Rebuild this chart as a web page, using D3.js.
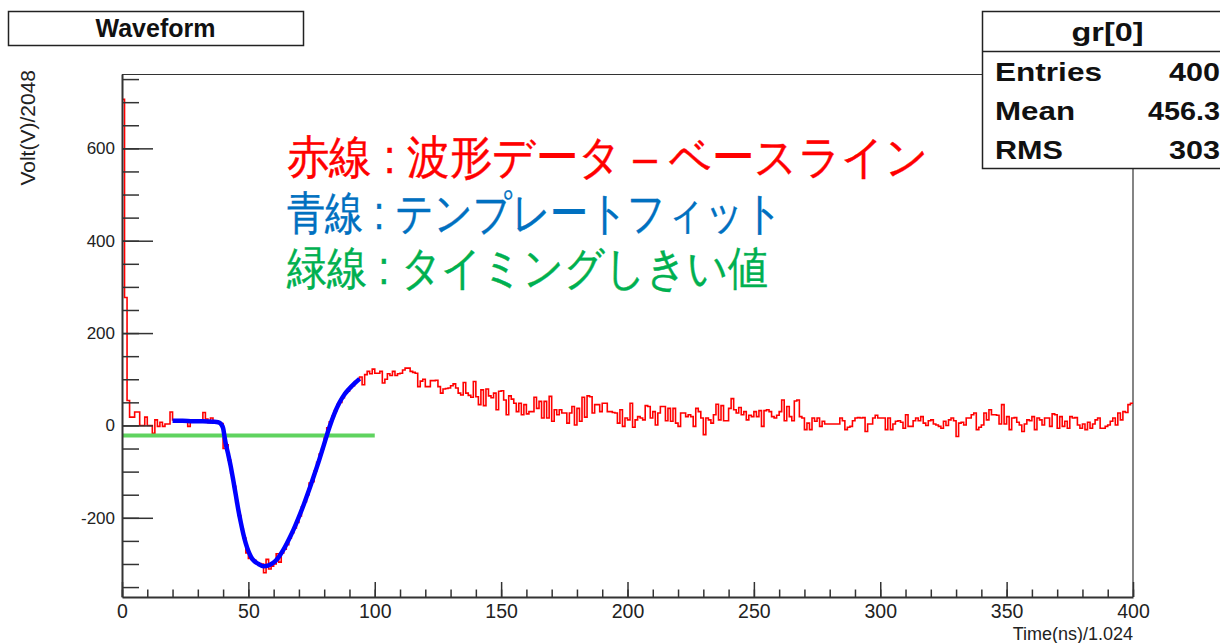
<!DOCTYPE html>
<html>
<head>
<meta charset="utf-8">
<script src="https://d3js.org/d3.v7.min.js"></script>
<style>
  body { margin: 0; background: #fff; }
  svg { display: block; }
  text { font-family: "Liberation Sans", Arial, sans-serif; }
</style>
</head>
<body>
<svg id="chart" width="1220" height="643"></svg>
<script>
// bin contents of the waveform histogram, bin i covers [i, i+1)
const waveform = [
  706, 277, 54, 18, 18, 29, 29, 0, 0, 18,
  0, 0, -17, 12, -2, 7, -2, 3, 3, 29,
  12, 10, 10, 12, 9, 10, -2, 10, 12, 9,
  12, 10, 28, 14, 6, 16, 10, 9, 6, 4,
  -50, -42, -75, -104, -132, -168, -195, -224, -244, -276,
  -288, -290, -292, -299, -299, -300, -319, -290, -311, -305,
  -300, -278, -296, -276, -268, -258, -244, -232, -222, -210,
  -196, -176, -165, -150, -125, -122, -99, -80, -62, -50,
  -24, -5, 8, 20, 32, 45, 50, 60, 70, 74,
  82, 86, 95, 99, 105, 88, 110, 117, 112, 122,
  113, 113, 117, 92, 100, 112, 108, 117, 108, 112,
  113, 120, 124, 124, 117, 115, 113, 84, 96, 100,
  84, 84, 97, 97, 98, 84, 70, 79, 80, 81,
  86, 90, 81, 70, 66, 93, 70, 65, 61, 95,
  62, 45, 77, 43, 79, 64, 60, 70, 34, 74,
  75, 55, 23, 64, 57, 48, 30, 48, 23, 45,
  25, 30, 30, 61, 37, 52, 16, 52, 16, 63,
  9, 34, 23, 34, 27, 27, 5, 27, 41, 1,
  37, 9, 61, 18, 64, 62, 27, 45, 45, 30,
  48, 48, 30, 30, 28, 27, 5, 34, -2, 16,
  12, 48, -4, 12, 19, 16, 12, 43, 41, 16,
  30, 1, 27, 41, 41, 10, 37, 9, 37, 5,
  -2, 27, 27, 19, 23, 19, -2, 37, 30, 16,
  -20, 16, 12, 5, 23, 46, 12, 43, 10, 10,
  37, 58, 34, 27, 39, 23, 30, 12, 22, 19,
  30, 19, 32, -2, 32, 34, 30, 19, 16, 22,
  30, 55, 10, 41, 19, 10, 53, 55, 19, 16,
  -9, 5, -9, 16, 9, 16, -2, 9, 3, 3,
  3, 3, 3, 3, 16, 10, -9, -4, -2, 10,
  16, 17, 16, 17, -13, 3, 3, 16, 22, 16,
  16, 16, -9, 16, -9, 3, 9, 10, 7, -6,
  23, -2, -2, 10, 16, 10, 19, 5, 0, 10,
  12, 3, 1, -2, -6, 9, 0, 12, 16, 10,
  -24, 5, 7, 1, 16, 16, 23, 27, -9, -4,
  1, 27, 12, 34, 23, 23, 22, 3, 45, 3,
  19, -9, 16, 17, 7, 1, -13, 3, 12, 10,
  19, -9, 16, 12, 1, 16, 16, -2, 25, 23,
  -6, 19, -2, 9, -6, 19, 16, 17, 1, -6,
  3, -9, 7, -6, 3, 12, 16, -6, -6, -2,
  1, 9, 16, 1, 27, 12, 30, 28, 45, 48
];

// template fit (blue)
const fitTime = [20, 24, 28, 32, 36, 38, 39, 40, 40.5, 41, 42, 43, 44, 45, 46, 47, 48, 49, 50,
  51, 52, 54, 56, 58, 60, 62, 64, 66, 68, 70, 72, 74, 76, 78, 80, 81, 82, 84, 86, 88, 90, 92, 94];
const fitVolt = [10, 10, 9, 9, 8, 7, 4, -6, -22, -38, -62, -88, -118, -150, -182, -210, -235, -256, -272,
  -284, -292, -300, -305, -303, -297, -285, -268, -247, -224, -198, -170, -140, -108, -75, -40, -22, -5,
  25, 49, 67, 80, 91, 101];

// timing threshold (green)
const threshold = -22;
const thresholdTime = [0, 100];

const xTicks = [0, 50, 100, 150, 200, 250, 300, 350, 400];
const yTicks = [-200, 0, 200, 400, 600];

const legendLines = ["赤線 : 波形データ – ベースライン", "青線 : テンプレートフィット", "緑線 : タイミングしきい値"];
const legendColors = ["#ff0000", "#0070c0", "#00b050"];

const statsTitle = "gr[0]";
const statsLabels = ["Entries", "Mean", "RMS"];
const statsValues = ["400", "456.3", "303"];

const svg = d3.select("#chart");

const x = d3.scaleLinear().domain([0, 400]).range([122, 1133]);
const y = d3.scaleLinear().domain([-371.5, 761]).range([597, 74]);

// frame top / right
svg.append("line")
  .attr("x1", 122).attr("x2", 1133).attr("y1", 74.5).attr("y2", 74.5)
  .attr("stroke", "#333").attr("stroke-width", 1.2);
svg.append("line")
  .attr("x1", 1133).attr("x2", 1133).attr("y1", 74).attr("y2", 597)
  .attr("stroke", "#333").attr("stroke-width", 1.2);

// Red histogram
const pts = waveform.map((v, i) => [i, v]);
pts.push([400, waveform[waveform.length - 1]]);

svg.append("path")
  .datum(pts)
  .attr("fill", "none")
  .attr("stroke", "#ff0000")
  .attr("stroke-width", 1.6)
  .attr("d", d3.line().x(d => x(d[0])).y(d => y(d[1])).curve(d3.curveStepAfter));

// Green threshold
svg.append("line")
  .attr("x1", x(thresholdTime[0])).attr("x2", x(thresholdTime[1]))
  .attr("y1", y(threshold)).attr("y2", y(threshold))
  .attr("stroke", "#5fd35f").attr("stroke-width", 4);

// Blue fit
svg.append("path")
  .datum(fitTime.map((t, i) => [t, fitVolt[i]]))
  .attr("fill", "none")
  .attr("stroke", "#0000ff")
  .attr("stroke-width", 4.5)
  .attr("d", d3.line().x(d => x(d[0])).y(d => y(d[1])).curve(d3.curveMonotoneX));

// Axes
const axisColor = "#333";

const xMinor = svg.append("g").attr("transform", "translate(0,597)")
  .call(d3.axisBottom(x).tickValues(d3.range(0, 401, 10)).tickSize(-7.5).tickSizeOuter(0).tickFormat(""));
xMinor.select(".domain").remove();

const xAxis = svg.append("g").attr("transform", "translate(0,597)")
  .call(d3.axisBottom(x).tickValues(xTicks).tickSize(-15).tickSizeOuter(0).tickPadding(7).tickFormat(d => String(d)));
xAxis.selectAll("text").attr("font-size", "19.5px").attr("fill", "#222");

const yMinor = svg.append("g").attr("transform", "translate(122,0)")
  .call(d3.axisLeft(y).tickValues(d3.range(-350, 751, 50)).tickSize(-17).tickSizeOuter(0).tickFormat(""));
yMinor.select(".domain").remove();

const yAxis = svg.append("g").attr("transform", "translate(122,0)")
  .call(d3.axisLeft(y).tickValues(yTicks).tickSize(-31).tickSizeOuter(0).tickPadding(7).tickFormat(d => String(d)));
yAxis.selectAll("text").attr("font-size", "17px").attr("fill", "#222");

svg.selectAll(".tick line").attr("stroke", axisColor).attr("stroke-width", 1.5);
svg.selectAll(".domain").attr("stroke", axisColor).attr("stroke-width", 2);

// Axis titles
svg.append("text")
  .attr("x", 1133).attr("y", 640)
  .attr("text-anchor", "end")
  .attr("font-size", "18px").attr("fill", "#222")
  .text("Time(ns)/1.024");

svg.append("text")
  .attr("transform", "translate(35,70) rotate(-90)")
  .attr("text-anchor", "end")
  .attr("font-size", "21px").attr("fill", "#222")
  .text("Volt(V)/2048");

// Title box
svg.append("rect")
  .attr("x", 8.5).attr("y", 11.5).attr("width", 295).attr("height", 34)
  .attr("fill", "#fff").attr("stroke", "#222").attr("stroke-width", 1.5);
svg.append("text")
  .attr("x", 155.5).attr("y", 36.5)
  .attr("text-anchor", "middle")
  .attr("font-size", "25px").attr("font-weight", "bold").attr("fill", "#111")
  .text("Waveform");

// Stats box
svg.append("rect")
  .attr("x", 982.5).attr("y", 11.5).attr("width", 260).attr("height", 157)
  .attr("fill", "#fff").attr("stroke", "#222").attr("stroke-width", 1.5);
svg.append("line")
  .attr("x1", 982.5).attr("x2", 1240).attr("y1", 51.5).attr("y2", 51.5)
  .attr("stroke", "#222").attr("stroke-width", 1.5);

svg.append("text")
  .attr("x", 1071.5).attr("y", 41)
  .attr("font-size", "25px").attr("font-weight", "bold").attr("fill", "#111")
  .attr("textLength", 72).attr("lengthAdjust", "spacingAndGlyphs")
  .text(statsTitle);

const labelW = [107, 80, 68];
const valueW = [51, 72, 51];
const rowY = [81, 120, 159];

statsLabels.forEach((s, i) => {
  svg.append("text")
    .attr("x", 995).attr("y", rowY[i])
    .attr("font-size", "25px").attr("font-weight", "bold").attr("fill", "#111")
    .attr("textLength", labelW[i]).attr("lengthAdjust", "spacingAndGlyphs")
    .text(s);
  svg.append("text")
    .attr("x", 1220 - valueW[i]).attr("y", rowY[i])
    .attr("font-size", "25px").attr("font-weight", "bold").attr("fill", "#111")
    .attr("textLength", valueW[i]).attr("lengthAdjust", "spacingAndGlyphs")
    .text(statsValues[i]);
});

// Japanese annotation
const legendW = [641, 496, 481];
const legendY = [173, 229, 284];

legendLines.forEach((s, i) => {
  svg.append("text")
    .attr("x", 287).attr("y", legendY[i])
    .attr("font-family", "'Noto Sans CJK JP', sans-serif")
    .attr("font-size", "46px")
    .attr("fill", legendColors[i])
    .attr("stroke", legendColors[i]).attr("stroke-width", 0.4)
    .attr("textLength", legendW[i]).attr("lengthAdjust", "spacingAndGlyphs")
    .text(s);
});
</script>
</body>
</html>
